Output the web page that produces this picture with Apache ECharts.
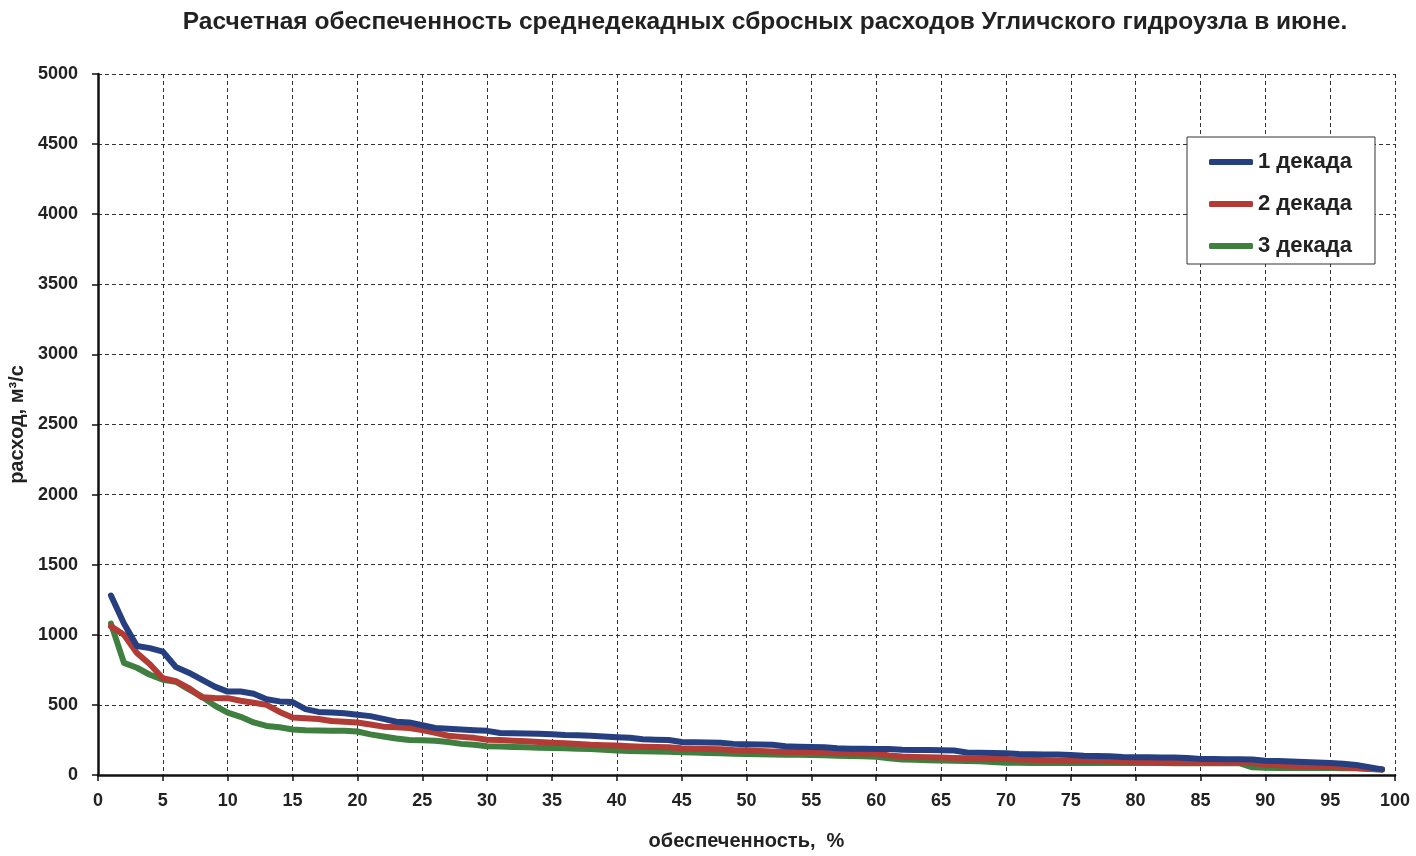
<!DOCTYPE html>
<html><head><meta charset="utf-8">
<script src="https://cdn.jsdelivr.net/npm/echarts@6/dist/echarts.min.js"></script>
<style>html,body{margin:0;padding:0;background:#fff}#c{width:1416px;height:856px}</style>
</head><body><div id="c"></div>
<script>
const titleText = 'Расчетная обеспеченность среднедекадных сбросных расходов Угличского гидроузла в июне.';
const xName = 'обеспеченность,  %';
const yName = 'расход, м³/с';
const seriesNames = ['1 декада', '2 декада', '3 декада'];
const pct = [1,2,3,4,5,6,7,8,9,10,11,12,13,14,15,16,17,18,19,20,21,22,23,24,25,26,27,28,29,30,31,32,33,34,35,36,37,38,39,40,41,42,43,44,45,46,47,48,49,50,51,52,53,54,55,56,57,58,59,60,61,62,63,64,65,66,67,68,69,70,71,72,73,74,75,76,77,78,79,80,81,82,83,84,85,86,87,88,89,90,91,92,93,94,95,96,97,98,99];
const dekada1 = [1280,1080,920,905,880,770,730,680,630,595,595,580,540,525,520,470,450,445,440,430,420,400,380,375,355,335,330,325,320,315,300,298,296,295,290,285,283,280,275,270,265,255,252,250,235,233,232,230,222,220,218,215,205,202,200,198,190,188,187,186,185,180,178,178,177,175,160,158,157,156,150,148,147,146,143,138,136,134,128,127,126,125,124,122,115,114,113,112,111,102,100,96,92,90,85,80,72,55,40];
const dekada2 = [1060,1000,870,790,690,670,620,555,550,548,530,515,500,450,410,405,400,385,380,375,360,345,340,335,320,300,280,272,265,252,250,245,240,235,230,226,222,215,212,210,205,202,200,198,190,188,186,183,178,176,172,168,166,164,162,158,156,155,154,153,140,132,128,126,124,122,120,118,116,114,110,108,106,104,102,100,99,98,96,94,92,91,90,90,89,88,88,87,85,75,70,66,62,60,57,54,50,45,40];
const dekada3 = [1080,800,765,715,680,665,610,560,495,445,415,375,350,340,325,320,318,316,315,310,290,275,260,250,248,245,235,222,215,205,203,200,198,195,192,190,188,186,180,175,172,170,167,165,163,160,157,155,152,150,148,147,145,144,142,140,138,136,133,130,120,110,108,106,104,102,100,98,92,88,87,86,86,86,86,86,86,86,86,86,85,85,84,84,84,84,84,84,55,52,50,50,50,50,50,49,48,42,40];
const colors = ['#263F80', '#B23B35', '#3F7F3F'];

const chart = echarts.init(document.getElementById('c'), null, {renderer: 'canvas'});
const allData = [dekada1, dekada2, dekada3];
const font = 'Arial, "Liberation Sans", sans-serif';
chart.setOption({
  animation: false,
  backgroundColor: '#ffffff',
  title: {text: titleText, left: 760, top: 5, textAlign: 'center',
    textStyle: {fontFamily: font, fontSize: 24.5, fontWeight: 'bold', color: '#222'}},
  grid: {left: 98, right: 21, top: 74, bottom: 81, containLabel: false, outerBoundsMode: 'none'},
  legend: {
    orient: 'vertical', left: 1187, top: 137,
    data: seriesNames,
    icon: 'roundRect', itemWidth: 44, itemHeight: 6, itemGap: 18,
    padding: [13, 23, 6, 22],
    backgroundColor: '#fff', borderColor: '#333', borderWidth: 1,
    textStyle: {fontFamily: font, fontSize: 22, lineHeight: 24, fontWeight: 'bold', color: '#222'}
  },
  xAxis: {
    type: 'value', min: 0, max: 100, interval: 5,
    name: xName, nameLocation: 'middle', nameGap: 56,
    nameTextStyle: {fontFamily: font, fontSize: 20, fontWeight: 'bold', color: '#222'},
    axisLine: {lineStyle: {color: '#111', width: 2.5}},
    axisTick: {show: true, length: 6, lineStyle: {color: '#111', width: 1.5}},
    axisLabel: {fontFamily: font, fontSize: 18, fontWeight: 'bold', color: '#222', margin: 17},
    splitLine: {show: true, lineStyle: {color: '#333', width: 1, type: [4, 3]}}
  },
  yAxis: {
    type: 'value', min: 0, max: 5000, interval: 500,
    name: yName, nameLocation: 'middle', nameGap: 71,
    nameTextStyle: {fontFamily: font, fontSize: 20, fontWeight: 'bold', color: '#222'},
    axisLine: {show: true, lineStyle: {color: '#111', width: 2.5}},
    axisTick: {show: true, length: 6, lineStyle: {color: '#111', width: 1.5}},
    axisLabel: {fontFamily: font, fontSize: 18, fontWeight: 'bold', color: '#222', margin: 20,
      formatter: v => String(v)},
    splitLine: {show: true, lineStyle: {color: '#333', width: 1, type: [4, 3]}}
  },
  series: seriesNames.map((n, i) => ({
    name: n, type: 'line', showSymbol: false, symbol: 'none',
    data: pct.map((p, j) => [p, allData[i][j]]),
    lineStyle: {color: colors[i], width: 6, cap: 'round', join: 'round'},
    itemStyle: {color: colors[i]},
    z: 3 + (2 - i)
  }))
});
</script></body></html>
